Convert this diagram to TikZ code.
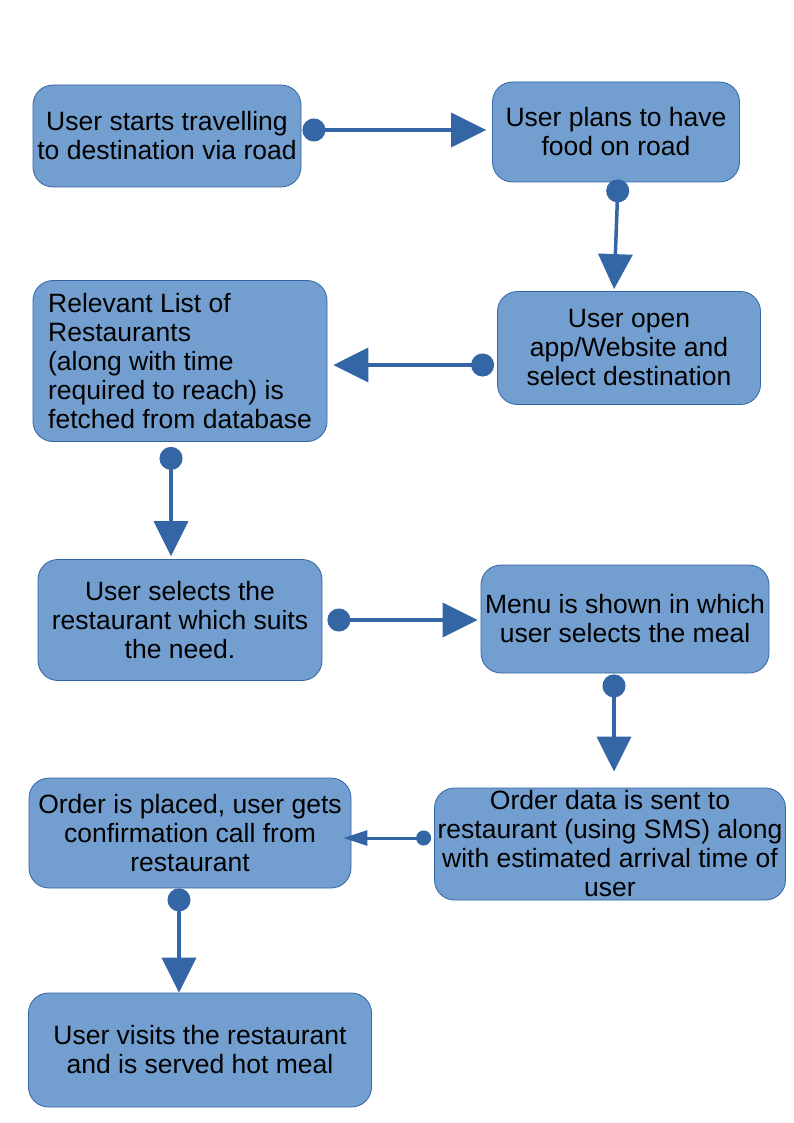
\documentclass[tikz,border=0pt]{standalone}
\usepackage{fontspec}
\setmainfont{Liberation Sans}
\usetikzlibrary{arrows.meta}
\definecolor{boxfill}{HTML}{729FCF}
\definecolor{boxline}{HTML}{3465A4}

\begin{document}
\begin{tikzpicture}[x=1pt, y=-1pt,
  stepbox/.style={draw=boxline, fill=boxfill, rounded corners=20pt, line width=0.8pt,
    inner sep=0pt, align=center, font=\fontsize{26.5}{29}\selectfont},
  link/.style={draw=boxline, line width=3.5pt,
    {Circle[length=23pt,width=23pt]}-{Triangle[length=35pt,width=34pt]}},
  thinlink/.style={draw=boxline, line width=3pt,
    {Circle[length=15pt,width=15pt]}-{Triangle[length=24pt,width=15pt]}}]
\useasboundingbox (0,0) rectangle (794,1123);

% the steps
\node[stepbox, minimum width=268pt, minimum height=102pt] (start) at (167,136) {User starts travelling\\to destination via road};
\node[stepbox, minimum width=247pt, minimum height=100pt] (plan) at (616,132) {User plans to have\\food on road};
\node[stepbox, minimum width=263pt, minimum height=113pt] (open) at (629,348) {User open\\app/Website and\\select destination};
\node[stepbox, minimum width=294pt, minimum height=161pt, align=left] (list) at (180,361) {Relevant List of\\Restaurants\\(along with time\\required to reach) is\\fetched from database};
\node[stepbox, minimum width=284pt, minimum height=121pt] (select) at (180,620) {User selects the\\restaurant which suits\\the need.};
\node[stepbox, minimum width=288pt, minimum height=108pt] (menu) at (625,619) {Menu is shown in which\\user selects the meal};
\node[stepbox, minimum width=351pt, minimum height=112pt] (sent) at (610,844) {Order data is sent to\\restaurant (using SMS) along\\with estimated arrival time of\\user};
\node[stepbox, minimum width=322pt, minimum height=110pt] (placed) at (190,833) {Order is placed, user gets\\confirmation call from\\restaurant};
\node[stepbox, minimum width=343pt, minimum height=114pt] (visit) at (200,1050) {User visits the restaurant\\and is served hot meal};

% the connectors
\draw[link, shorten <=1pt, shorten >=6pt] ([yshift=6pt]start.east) -- ([yshift=2pt]plan.west);
\draw[link, shorten <=-3pt, shorten >=2pt] ([xshift=2pt]plan.south) -- ([xshift=-15pt]open.north);
\draw[link, shorten <=3pt, shorten >=6pt] ([yshift=-17pt]open.west) -- ([yshift=-4pt]list.east);
\draw[link, shorten <=5pt, shorten >=3pt] ([xshift=-9pt]list.south) -- ([xshift=-9pt]select.north);
\draw[link, shorten <=5pt, shorten >=3pt] (select.east) -- (menu.west |- select.east);
\draw[link, shorten <=1pt, shorten >=16pt] ([xshift=-11pt]menu.south) -- ([xshift=4pt]sent.north);
\draw[thinlink, shorten <=3pt, shorten >=-8pt] ([yshift=6pt]sent.west) -- ([yshift=-5pt]placed.east);
\draw[link] ([xshift=-11pt]placed.south) -- ([xshift=-21pt]visit.north);
\end{tikzpicture}
\end{document}
